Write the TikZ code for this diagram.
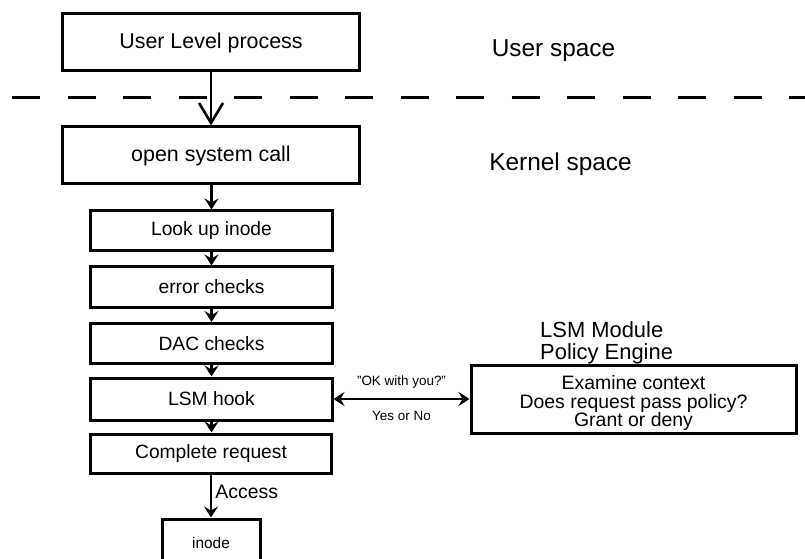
\documentclass[tikz,border=0pt]{standalone}
\usepackage{fontspec}
\setmainfont{Liberation Sans}
\usetikzlibrary{arrows.meta,positioning}

\tikzset{
  box/.style={draw, line width=3bp, inner sep=0pt, align=center},
  bigbox/.style={box, minimum width=296bp, minimum height=57bp,
    font=\fontsize{21.5}{24}\selectfont},
  stepbox/.style={box, minimum width=241bp, minimum height=40bp,
    font=\fontsize{19.3}{22}\selectfont},
  flowtip/.tip={Stealth[length=11bp,width=14bp,inset=4bp]},
  flow/.style={line width=2.8bp, -{flowtip}},
  spacelabel/.style={font=\fontsize{24.5}{27}\selectfont, inner sep=0pt},
  smalllabel/.style={font=\fontsize{13.5}{15}\selectfont, inner sep=0pt},
}

\begin{document}
\begin{tikzpicture}[x=1bp, y=-1bp]
  \clip (0,0) rectangle (805,559);
  \fill[white] (0,0) rectangle (805,559);

  % user / kernel boundary
  \coordinate (bl) at (12,98);
  \coordinate (br) at (805,98);
  \draw[line width=3bp, dash pattern=on 28bp off 27.5bp] (bl) -- (br);

  % region labels
  \node[spacelabel] (user) at (553.5,50.5) {User space};
  \node[spacelabel] (kern) at (560.5,164) {Kernel space};

  % call path
  \node[bigbox] (ulp) at (211,42.5) {User Level process};
  \node[bigbox] (osc) at (211,155.5) {open system call};
  \node[stepbox] (look) at (211.5,231) {Look up inode};
  \node[stepbox] (err) at (211.5,287) {error checks};
  \node[stepbox] (dac) at (211.5,343.5) {DAC checks};
  \node[stepbox, minimum height=42bp] (hook) at (211.5,399) {LSM hook};
  \node[stepbox, minimum height=39bp] (comp) at (211,453.5) {Complete request};
  \node[box, minimum width=98bp, minimum height=52bp] (ino) at (211,545) {};
  \node[font=\fontsize{15.5}{18}\selectfont, inner sep=0pt] (inot) at (211,543) {inode};

  % policy engine
  \node[font=\fontsize{22}{22}\selectfont, align=left, anchor=west, inner sep=0pt]
    (mod) at (540,343) {LSM Module\\Policy Engine};
  \node[box, minimum width=325bp, minimum height=68bp] (pol) at (633.5,399) {};
  \node[font=\fontsize{19.5}{19}\selectfont, align=center, inner sep=0pt]
    (polt) at ([yshift=-4bp]pol.center)
    {Examine context\\Does request pass policy?\\Grant or deny};

  % connectors
  \draw[line width=2.6bp, -{Straight Barb[length=20bp,width=24bp,line width=2.6bp]}]
    (ulp.south) -- (osc.north);
  \draw[flow] (osc.south -| look.north) -- (look.north);
  \draw[flow] (look.south) -- (err.north);
  \draw[flow] (err.south) -- (dac.north);
  \draw[flow] (dac.south) -- (hook.north);
  \draw[flow] (hook.south) -- (hook.south |- comp.north);
  \draw[flow] (comp.south) -- (ino.north)
    node[pos=0.4, right=3bp, font=\fontsize{19.5}{22}\selectfont, inner sep=0pt] (acc) {Access};
  \draw[line width=2.8bp, {flowtip}-{flowtip}]
    (hook.east) -- (pol.west)
    node[midway, above=9bp, smalllabel] (ask) {\symbol{34}OK with you?\symbol{34}}
    node[midway, below=11bp, smalllabel] (ans) {Yes or No};
\end{tikzpicture}
\end{document}
